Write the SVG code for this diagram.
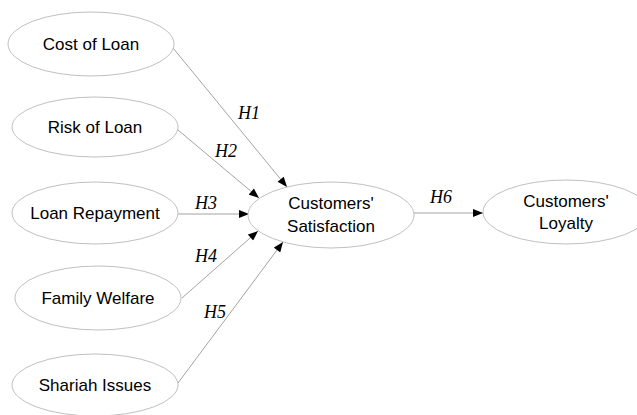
<svg xmlns="http://www.w3.org/2000/svg" width="637" height="415" viewBox="0 0 637 415">
<style>
.n ellipse{fill:#fff;stroke:#c0c0c0;stroke-width:1}
.n text{font-family:"Liberation Sans",Arial,sans-serif;font-size:17px;fill:#000;text-anchor:middle}
.c line{stroke:#8c8c8c;stroke-width:0.8;marker-end:url(#ah)}
.h{font-family:"Liberation Serif","Times New Roman",serif;font-style:italic;font-size:18px;fill:#000}
</style>
<defs>
<marker id="ah" viewBox="0 0 10 8" refX="10" refY="4" markerWidth="11" markerHeight="8" markerUnits="userSpaceOnUse" orient="auto">
<path d="M0,0 L10,4 L0,8 Z" fill="#000"/>
</marker>
</defs>
<rect width="637" height="415" fill="#fff"/>
<g class="c">
<line x1="173" y1="48" x2="287" y2="187"/>
<line x1="178" y1="130" x2="259" y2="198"/>
<line x1="178" y1="214" x2="249" y2="214"/>
<line x1="182" y1="298" x2="258" y2="231"/>
<line x1="178" y1="383" x2="283" y2="242"/>
<line x1="414" y1="213" x2="483" y2="213"/>
</g>
<g id="labels">
<text class="h" x="238" y="119">H1</text>
<text class="h" x="215" y="157">H2</text>
<text class="h" x="195" y="209">H3</text>
<text class="h" x="195" y="262">H4</text>
<text class="h" x="204" y="318">H5</text>
<text class="h" x="430" y="203">H6</text>
</g>
<g id="cost" class="n"><ellipse cx="91" cy="44" rx="83" ry="32"/><text x="91" y="50">Cost of Loan</text></g>
<g id="risk" class="n"><ellipse cx="95" cy="127" rx="83" ry="30"/><text x="95" y="133">Risk of Loan</text></g>
<g id="repay" class="n"><ellipse cx="95" cy="213" rx="83" ry="31"/><text x="95" y="219">Loan Repayment</text></g>
<g id="family" class="n"><ellipse cx="98" cy="298" rx="83" ry="32"/><text x="98" y="304">Family Welfare</text></g>
<g id="shariah" class="n"><ellipse cx="95" cy="385" rx="83" ry="31"/><text x="95" y="391">Shariah Issues</text></g>
<g id="satisfaction" class="n"><ellipse cx="331" cy="215" rx="83" ry="33"/><text x="331" y="209">Customers'</text><text x="331" y="232">Satisfaction</text></g>
<g id="loyalty" class="n"><ellipse cx="566" cy="212" rx="83" ry="32"/><text x="566" y="207">Customers'</text><text x="566" y="229">Loyalty</text></g>
</svg>
